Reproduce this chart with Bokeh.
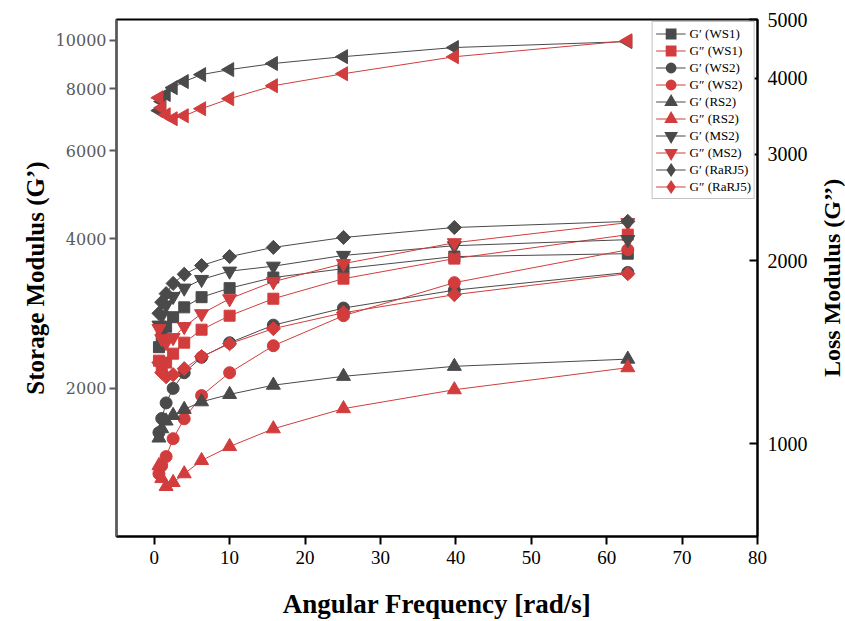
import numpy as np
from bokeh.plotting import figure
from bokeh.layouts import row
from bokeh.models import Range1d, LogScale, LogAxis, FixedTicker, PrintfTickFormatter
from bokeh.core.properties import value
from bokeh.embed import file_html
from bokeh.resources import INLINE

# Angular frequency [rad/s]
freq = [0.628, 1.0, 1.58, 2.51, 3.98, 6.28, 10.0, 15.8, 25.1, 39.8, 62.8]

# Storage modulus G' (left axis)
ws1_g1 = [2420, 2530, 2660, 2780, 2910, 3050, 3180, 3340, 3480, 3680, 3730]
ws2_g1 = [1630, 1740, 1870, 2000, 2150, 2310, 2470, 2680, 2900, 3150, 3420]
rs2_g1 = [1590, 1660, 1720, 1765, 1815, 1880, 1945, 2030, 2115, 2215, 2290]
ms2_g1 = [2680, 2800, 2940, 3060, 3180, 3310, 3440, 3520, 3700, 3870, 3980]
rarj5_g1 = [2830, 2980, 3100, 3250, 3390, 3530, 3680, 3840, 4020, 4210, 4330]
extra_g1 = [7230, 7540, 7790, 8040, 8270, 8540, 8740, 8990, 9280, 9680, 9950]

# Loss modulus G'' (right axis)
ws1_g2 = [1370, 1340, 1360, 1407, 1467, 1541, 1625, 1733, 1870, 2018, 2210]
ws2_g2 = [892, 920, 952, 1019, 1099, 1200, 1309, 1450, 1625, 1842, 2087]
rs2_g2 = [920, 876, 850, 863, 892, 938, 989, 1058, 1142, 1227, 1334]
ms2_g2 = [1547, 1489, 1467, 1495, 1559, 1637, 1733, 1849, 1980, 2143, 2313]
rarj5_g2 = [1360, 1309, 1289, 1299, 1329, 1391, 1461, 1547, 1643, 1760, 1906]
extra_g2 = [3715, 3577, 3483, 3431, 3470, 3564, 3702, 3889, 4070, 4341, 4612]

x_ticks = [0, 10, 20, 30, 40, 50, 60, 70, 80]
left_ticks = [2000, 4000, 6000, 8000, 10000]
right_ticks = [1000, 2000, 3000, 4000, 5000]

BLACK = "#4a4a4a"
RED = "#d23c3c"
SERIF = "Liberation Serif"
NAN = [float("nan")]

p = figure(width=817, height=621, x_range=Range1d(-5, 80),
           y_range=Range1d(1008, 11020), y_axis_type="log",
           output_backend="svg", toolbar_location=None,
           min_border_left=116, min_border_right=60,
           min_border_top=19, min_border_bottom=85)
p.extra_y_ranges = {"loss": Range1d(703, 5000)}
p.extra_y_scales = {"loss": LogScale()}

p.xgrid.visible = False
p.ygrid.visible = False
p.outline_line_color = "black"
p.outline_line_width = 2

# x axis
xa = p.xaxis[0]
xa.ticker = FixedTicker(ticks=x_ticks)
xa.axis_label = "Angular Frequency [rad/s]"
xa.axis_label_text_font = SERIF
xa.axis_label_text_font_style = "bold"
xa.axis_label_text_font_size = "27px"
xa.axis_label_text_color = "black"
xa.axis_label_standoff = 22
xa.major_label_text_font = SERIF
xa.major_label_text_font_size = "19px"
xa.major_label_text_color = "black"
xa.major_label_standoff = 6
xa.axis_line_color = "black"
xa.axis_line_width = 2
xa.major_tick_line_color = "black"
xa.major_tick_line_width = 2
xa.major_tick_out = 8
xa.major_tick_in = 0
xa.minor_tick_line_color = None

# left axis
ya = p.yaxis[0]
ya.ticker = FixedTicker(ticks=left_ticks)
ya.formatter = PrintfTickFormatter(format="%d")
ya.axis_label = "Storage Modulus (G\u2019)"
ya.axis_label_text_font = SERIF
ya.axis_label_text_font_style = "bold"
ya.axis_label_text_font_size = "25px"
ya.axis_label_text_color = "black"
ya.axis_label_standoff = 4
ya.major_label_text_font = "DejaVu Serif"
ya.major_label_text_font_size = "16px"
ya.major_label_text_color = "#5a5a5a"
ya.major_label_standoff = 3
ya.axis_line_color = "#5a5a5a"
ya.axis_line_width = 2
ya.major_tick_line_color = "#5a5a5a"
ya.major_tick_line_width = 2
ya.major_tick_out = 7
ya.major_tick_in = 0
ya.minor_tick_line_color = None

# right axis (its title is drawn in a narrow side figure, reading bottom-to-top)
ra = LogAxis(y_range_name="loss")
ra.ticker = FixedTicker(ticks=right_ticks)
ra.formatter = PrintfTickFormatter(format="%d")
ra.major_label_text_font = SERIF
ra.major_label_text_font_size = "20px"
ra.major_label_text_color = "black"
ra.major_label_standoff = 10
ra.axis_line_color = "black"
ra.axis_line_width = 2
ra.major_tick_line_color = "black"
ra.major_tick_line_width = 2
ra.major_tick_out = 0
ra.major_tick_in = 8
ra.minor_tick_line_color = None
p.add_layout(ra, "right")

# (label, values, colour, plot marker, angle, size, range, legend marker)
series = [
    ("G\u2032 (WS1)", ws1_g1, BLACK, "square", 0.0, 11, "default", "square"),
    ("G\u2033 (WS1)", ws1_g2, RED, "square", 0.0, 11, "loss", "square"),
    ("G\u2032 (WS2)", ws2_g1, BLACK, "circle", 0.0, 12, "default", "circle"),
    ("G\u2033 (WS2)", ws2_g2, RED, "circle", 0.0, 12, "loss", "circle"),
    ("G\u2032 (RS2)", rs2_g1, BLACK, "triangle", 0.0, 14, "default", "triangle"),
    ("G\u2033 (RS2)", rs2_g2, RED, "triangle", 0.0, 14, "loss", "triangle"),
    ("G\u2032 (MS2)", ms2_g1, BLACK, "inverted_triangle", 0.0, 14, "default", "inverted_triangle"),
    ("G\u2033 (MS2)", ms2_g2, RED, "inverted_triangle", 0.0, 14, "loss", "inverted_triangle"),
    ("G\u2032 (RaRJ5)", rarj5_g1, BLACK, "square", np.pi / 4, 10, "default", "diamond"),
    ("G\u2033 (RaRJ5)", rarj5_g2, RED, "square", np.pi / 4, 10, "loss", "diamond"),
]

# unlabelled top pair (left-pointing triangles)
p.line(freq, extra_g1, line_color=BLACK, line_width=1)
p.scatter(freq, extra_g1, marker="triangle", angle=np.pi / 2, size=14,
          fill_color=BLACK, line_color=BLACK)
p.line(freq, extra_g2, line_color=RED, line_width=1, y_range_name="loss")
p.scatter(freq, extra_g2, marker="triangle", angle=np.pi / 2, size=14,
          fill_color=RED, line_color=RED, y_range_name="loss")

for label, vals, col, mk, ang, sz, rng, lmk in series:
    p.line(freq, vals, line_color=col, line_width=1, y_range_name=rng)
    p.scatter(freq, vals, marker=mk, angle=ang, size=sz, fill_color=col,
              line_color=col, y_range_name=rng)
    # legend-only glyphs (no visible data); thick outline enlarges the key marker
    p.line(NAN, NAN, line_color=col, line_width=1, y_range_name=rng,
           legend_label=label)
    p.scatter(NAN, NAN, marker=lmk, size=10, fill_color=col, line_color=col,
              line_width=4, line_join="miter", y_range_name=rng,
              legend_label=label)

lg = p.legend[0]
lg.location = "top_right"
lg.margin = 2
lg.padding = 3
lg.spacing = 0
lg.label_text_font = SERIF
lg.label_text_font_size = "13px"
lg.label_text_color = "black"
lg.label_height = 17
lg.glyph_height = 17
lg.glyph_width = 30
lg.label_standoff = 4
lg.border_line_color = "#888888"
lg.border_line_width = 1
lg.background_fill_alpha = 1.0

# narrow side panel carrying the right-axis title
side = figure(width=28, height=621, x_range=Range1d(0, 1), y_range=Range1d(0, 1),
              output_backend="svg", toolbar_location=None,
              min_border_left=0, min_border_right=0,
              min_border_top=19, min_border_bottom=85)
side.axis.visible = False
side.xgrid.visible = False
side.ygrid.visible = False
side.outline_line_color = None
side.text(x=[0.5], y=[0.5], text=["Loss Modulus (G\u2019\u2019)"], angle=np.pi / 2,
          text_align="center", text_baseline="middle",
          text_font=value(SERIF), text_font_style="bold",
          text_font_size="24px", text_color="black")

layout = row(p, side, spacing=0)
open("out.html", "w").write(file_html(layout, INLINE))
